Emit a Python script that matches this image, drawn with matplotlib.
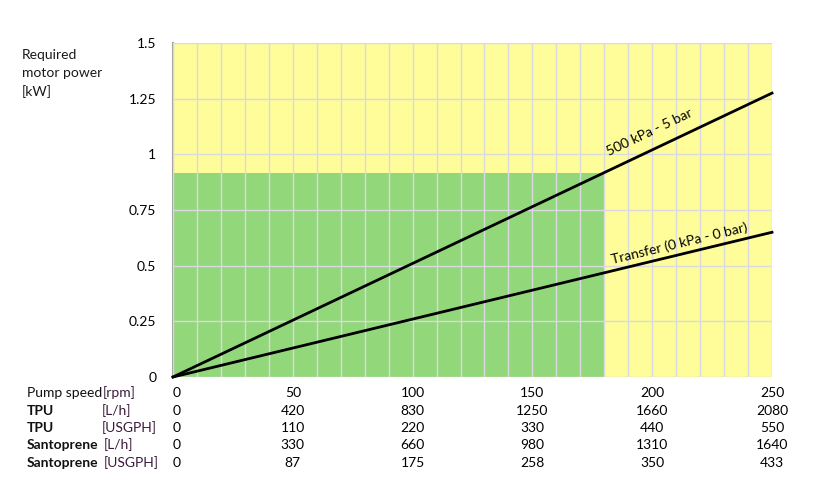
import matplotlib.pyplot as plt
import matplotlib.transforms as mtransforms

plt.rcParams['font.family'] = ['Lato', 'DejaVu Sans']
plt.rcParams['font.size'] = 10

# pump speed [rpm] and required motor power [kW]
rpm = [0, 250]
power_5bar = [0, 1.275]
power_transfer = [0, 0.65]

# green operating region
green_rpm = 180
green_kw = 0.917

# table under the chart
col_rpm = [0, 50, 100, 150, 200, 250]
tpu_lh = [0, 420, 830, 1250, 1660, 2080]
tpu_usgph = [0, 110, 220, 330, 440, 550]
santo_lh = [0, 330, 660, 980, 1310, 1640]
santo_usgph = [0, 87, 175, 258, 350, 433]

rows = [
    ("Pump speed", "[rpm]", "normal", col_rpm),
    ("TPU", "[L/h]", "bold", tpu_lh),
    ("TPU", "[USGPH]", "bold", tpu_usgph),
    ("Santoprene", "[L/h]", "bold", santo_lh),
    ("Santoprene", "[USGPH]", "bold", santo_usgph),
]
row_y = [393, 411, 428, 445, 463]
unit_x = [103, 102, 102, 104, 104]

W, H = 833, 480
fig = plt.figure(figsize=(W / 100, H / 100), dpi=100)
ax = fig.add_axes([173 / W, 1 - 377 / H, (772 - 173) / W, (377 - 43) / H])

ax.set_facecolor('#FFFD99')
ax.fill_between([0, green_rpm], 0, green_kw, color='#92D77A', lw=0, zorder=1)

ax.set_xlim(0, 250)
ax.set_ylim(0, 1.5)
ax.set_xticks(range(0, 251, 10))
ax.set_yticks([0, 0.25, 0.5, 0.75, 1, 1.25, 1.5])
ax.set_yticklabels(['0', '0.25', '0.5', '0.75', '1', '1.25', '1.5'])
ax.tick_params(axis='x', length=0, labelbottom=False)
ax.tick_params(axis='y', length=0, pad=12, labelsize=10)
ax.grid(True, color='#D9D9E1', lw=1)
ax.set_axisbelow(False)
for s in ['top', 'right', 'bottom']:
    ax.spines[s].set_visible(False)
ax.spines['left'].set_color('#A6A6A6')
ax.spines['left'].set_linewidth(1.5)

ax.plot(rpm, power_5bar, color='black', lw=2, zorder=3, clip_on=False)
ax.plot(rpm, power_transfer, color='black', lw=2, zorder=3, clip_on=False)
ax.text(199, 1.10, '500 kPa - 5 bar', rotation=25.4, ha='center', va='center',
        rotation_mode='anchor', fontsize=10)
ax.text(211.5, 0.60, 'Transfer (0 kPa - 0 bar)', rotation=13.6, ha='center',
        va='center', rotation_mode='anchor', fontsize=10)

fig.text(22 / W, 1 - 73.5 / H, 'Required\nmotor power\n[kW]', ha='left', va='center',
         linespacing=1.6, fontsize=10, color='#1a1a1a')

trans = mtransforms.blended_transform_factory(ax.transData, fig.transFigure)
for (name, unit, weight, vals), yy, ux in zip(rows, row_y, unit_x):
    fy = 1 - yy / H
    fig.text(27 / W, fy, name, ha='left', va='center', fontweight=weight,
             color='#111111')
    fig.text(ux / W, fy, unit, ha='left', va='center', color='#3B1A3B')
    for r, v in zip(col_rpm, vals):
        if r == 0:
            ax.text(0, fy, str(v), transform=trans, ha='left', va='center')
        else:
            ax.text(r, fy, str(v), transform=trans, ha='center', va='center')

fig.savefig('out.png', dpi=100)
